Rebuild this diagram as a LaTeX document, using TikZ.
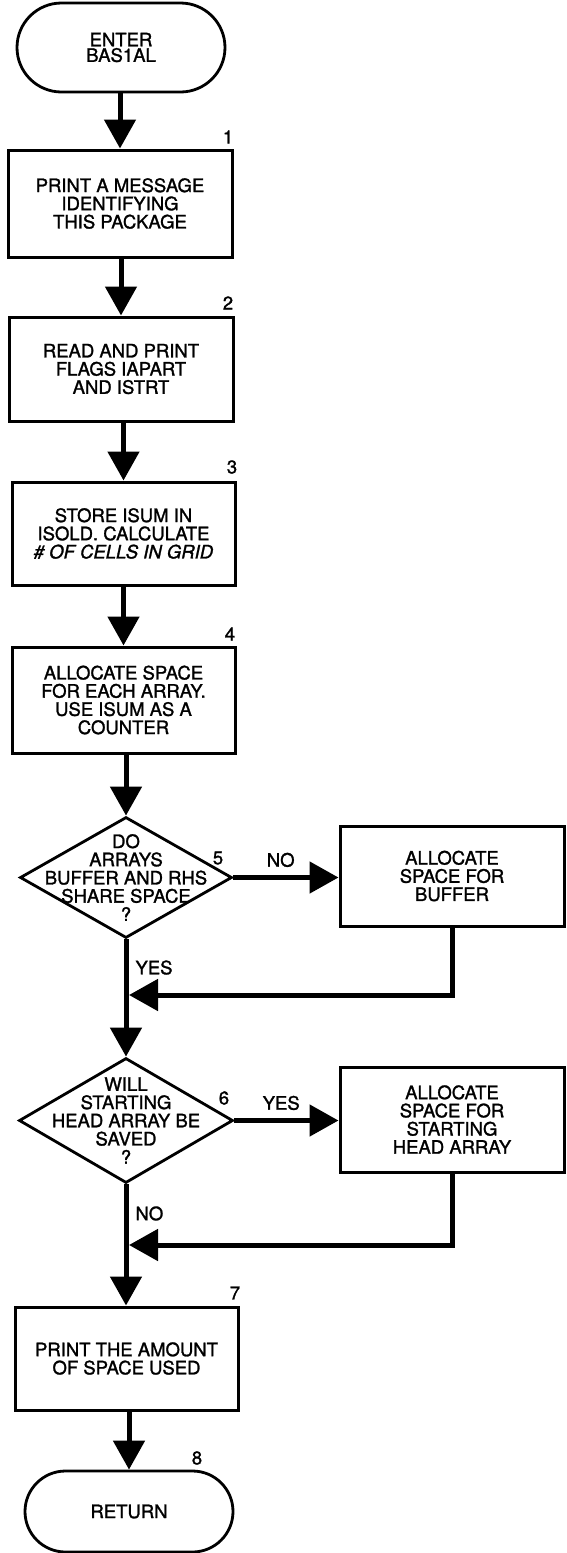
\documentclass[tikz,border=0pt]{standalone}
\usepackage{fontspec}
\setmainfont{TeX Gyre Heros}[RawFeature={embolden=1.4}]
\usetikzlibrary{arrows.meta,shapes.geometric,shapes.misc}

\begin{document}
\begin{tikzpicture}[x=1pt,y=-1pt,
	font=\fontsize{18.5}{18.2}\selectfont,
	every node/.style={align=center,inner sep=0pt},
	box/.style={draw,line width=3pt,rectangle},
	term/.style={draw,line width=2.8pt,rounded rectangle},
	dec/.style={draw,line width=2.8pt,diamond},
	flow/.style={line width=5pt,-{Triangle[width=31pt,length=29pt]}}]
	\useasboundingbox (0,0) rectangle (567,1553);
	\node[term,minimum width=208pt,minimum height=89pt,font=\fontsize{18.5}{15.5}\selectfont] (start) at (121,47.5) {ENTER\\BAS1AL};
	\node[box,minimum width=224pt,minimum height=107pt] (b1) at (120,203.5) {PRINT A MESSAGE\\IDENTIFYING\\THIS PACKAGE};
	\node[box,minimum width=224pt,minimum height=104pt] (b2) at (121,369) {READ AND PRINT\\FLAGS IAPART\\AND ISTRT};
	\node[box,minimum width=223pt,minimum height=103pt] (b3) at (123.5,533.5) {STORE ISUM IN\\ISOLD. CALCULATE\\\textit{\# OF CELLS IN GRID}};
	\node[box,minimum width=223pt,minimum height=106pt] (b4) at (123.5,700) {ALLOCATE SPACE\\FOR EACH ARRAY.\\USE ISUM AS A\\COUNTER};
	\node[dec,minimum width=212pt,minimum height=121pt] (q5) at (126,877.5) {};
	\node (q5t) at (q5) {DO\\ARRAYS\\BUFFER AND RHS\\SHARE SPACE\\?};
	\node[box,minimum width=224pt,minimum height=100pt] (b5) at (452,876) {ALLOCATE\\SPACE FOR\\BUFFER};
	\node[dec,minimum width=214pt,minimum height=125pt] (q6) at (126,1120.5) {};
	\node (q6t) at (q6) {WILL\\STARTING\\HEAD ARRAY BE\\SAVED\\?};
	\node[box,minimum width=224pt,minimum height=105pt] (b6) at (452,1119.5) {ALLOCATE\\SPACE FOR\\STARTING\\HEAD ARRAY};
	\node[box,minimum width=223pt,minimum height=103pt] (b7) at (126.5,1358.5) {PRINT THE AMOUNT\\OF SPACE USED};
	\node[term,minimum width=208pt,minimum height=81pt] (ret) at (129,1511.5) {RETURN};
	\node (n1) at (228,137) {1};
	\node (n2) at (228,303) {2};
	\node (n3) at (232,467) {3};
	\node (n4) at (230,634) {4};
	\node (n5) at (218,858) {5};
	\node (n6) at (224,1098) {6};
	\node (n7) at (235,1293) {7};
	\node (n8) at (197,1458) {8};
	\coordinate (m5) at (129,995);
	\coordinate (m6) at (129,1245);
	\path[flow]
	(start.south -| b1) edge (b1)
	(b1.south -| b2) edge (b2)
	(b2.south -| b3) edge (b3)
	(b3.south -| b4) edge (b4)
	(b4.south -| q5) edge (q5.north)
	(q5.east) edge node[pos=.45,above=8pt] {NO} (q5.east -| b5.west)
	(q5.south) edge node[pos=.24,right=7pt] {YES} (q6.north)
	(q6.east) edge node[pos=.45,above=8pt] {YES} (q6.east -| b6.west)
	(q6.south) edge node[pos=.24,right=7pt] {NO} (q6.south |- b7.north)
	(b7.south -| ret) edge (ret.north);
	\draw[flow] (b5.south) |- (m5);
	\draw[flow] (b6.south) |- (m6);
\end{tikzpicture}
\end{document}
